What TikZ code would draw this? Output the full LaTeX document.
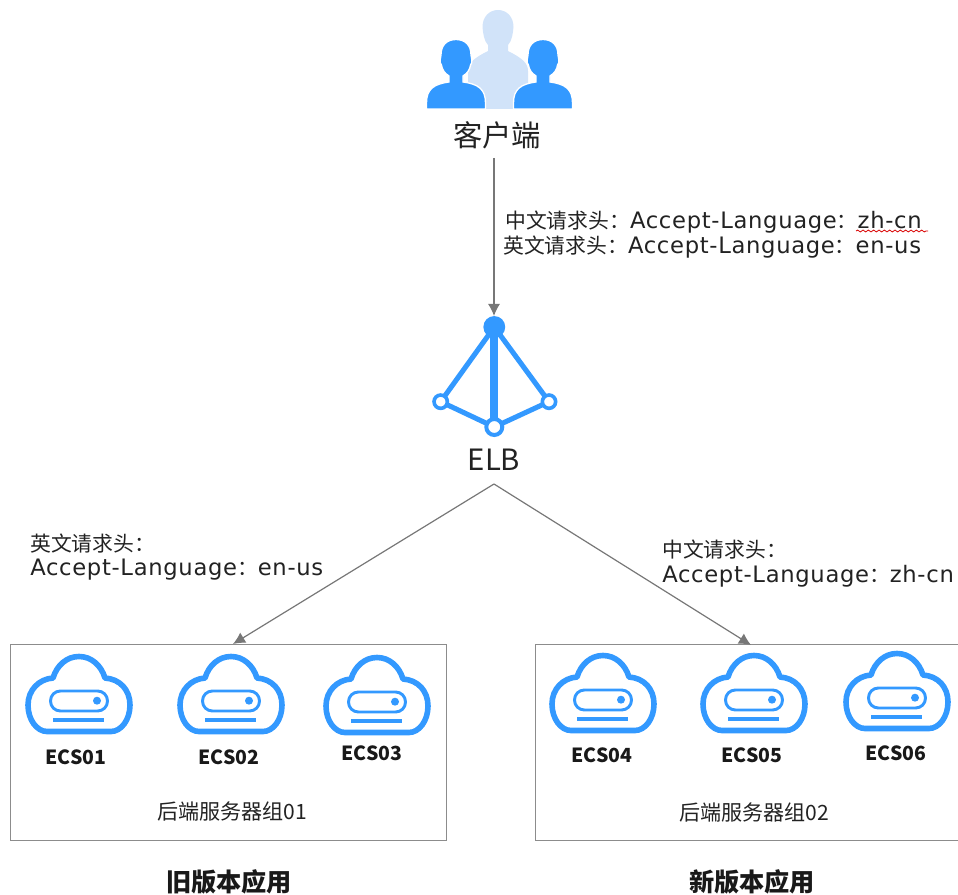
\documentclass[tikz,border=0pt]{standalone}
\usepackage{fontspec}
\setmainfont{Noto Sans CJK SC}
\newfontfamily\latf[LetterSpace=3]{DejaVu Sans}
\newcommand{\lt}[1]{{\latf\fontsize{17pt}{18pt}\selectfont #1}}
\usetikzlibrary{decorations.pathmorphing,arrows.meta}
\definecolor{iconblue}{HTML}{3399FF}
\definecolor{paleblue}{HTML}{D1E3F9}
\definecolor{linegray}{HTML}{777777}
\definecolor{boxgray}{HTML}{8C8C8C}
\definecolor{txt}{HTML}{222222}
\tikzset{
  x=0.75pt,y=-0.75pt,
  conn/.style={draw=linegray,line width=0.9pt,-{Latex[length=9pt,width=9pt]}},
  groupbox/.style={draw=boxgray,line width=0.8pt,minimum width=327pt,anchor=north west,inner sep=0pt},
  lbl/.style={font=\fontsize{15.6pt}{18pt}\selectfont,text=txt,anchor=west,inner sep=0pt},
  sm/.style={font=\fontsize{15.8pt}{18pt}\selectfont,text=txt,inner sep=0pt},
  big/.style={font=\fontsize{22pt}{26pt}\selectfont,text=txt,inner sep=0pt},
  ecs/.style={font=\fontsize{14.6pt}{17pt}\selectfont\bfseries,text=black!90,inner sep=0pt},
  app/.style={font=\fontsize{18.9pt}{22pt}\selectfont\bfseries,text=black!90,inner sep=0pt},
  cloud/.pic={
    \draw[iconblue,line width=4.2pt,line join=round]
      (-32,37.5) .. controls (-42,37.5) and (-51,26) .. (-51,11)
      .. controls (-51,-4) and (-40,-15) .. (-26,-16)
      .. controls (-22,-29) and (-12,-37.5) .. (0,-37.5)
      .. controls (12,-37.5) and (22,-29) .. (26,-16)
      .. controls (41,-15) and (51,-4) .. (51,11)
      .. controls (51,26) and (42,37.5) .. (32,37.5) -- cycle;
    \draw[iconblue,line width=2.2pt,rounded corners=7.4pt] (-28.5,-3) rectangle (28.5,17);
    \fill[iconblue] (18,6.7) circle[radius=3pt];
    \draw[iconblue,line width=3pt] (-26,25.5) -- (25,25.5);
  },
  person/.pic={
    \path[pic actions]
      (-29.5,0) -- (-29.5,-6)
      .. controls (-29.5,-20) and (-22,-25) .. (-7,-27)
      -- (-7,-33)
      .. controls (-12,-36) and (-14,-40) .. (-14.5,-44)
      .. controls (-17,-47) and (-15.5,-50) .. (-15,-54)
      .. controls (-15,-64) and (-9,-69.5) .. (0,-69.5)
      .. controls (9,-69.5) and (15,-64) .. (15,-54)
      .. controls (15.5,-50) and (17,-47) .. (14.5,-44)
      .. controls (14,-40) and (12,-36) .. (7,-33)
      -- (7,-27)
      .. controls (22,-25) and (29.5,-20) .. (29.5,-6)
      -- (29.5,0) -- cycle;
  },
}
\begin{document}
\begin{tikzpicture}
\useasboundingbox (0,0) rectangle (958,895);
% client icon
\fill[paleblue] (468,109) -- (468,-38+109)
  .. controls (468,-46+109) and (474,-51+109) .. (488,-58+109)
  -- (488,-64+109)
  .. controls (484,-68+109) and (483,-76+109) .. (482.5,-82+109)
  .. controls (482.5,-92+109) and (489,-99+109) .. (498,-99+109)
  .. controls (507,-99+109) and (513.5,-92+109) .. (513.5,-82+109)
  .. controls (513,-76+109) and (512,-68+109) .. (508,-64+109)
  -- (508,-58+109)
  .. controls (522,-51+109) and (528,-46+109) .. (528,-38+109)
  -- (528,109) -- cycle;
\pic[fill=iconblue,draw=white,line width=1pt] at (456,109) {person};
\pic[fill=iconblue,draw=white,line width=1pt] at (543,109) {person};
\node[big] (client) at (497,135) {客户端};
% ELB icon
\draw[iconblue,line width=3.8pt] (494.3,427) -- (440.7,401.7) -- (494.3,327) -- (549,401.7) -- cycle;
\draw[iconblue,line width=6pt] (494.3,327) -- (494.3,427);
\fill[iconblue] (494.3,327) circle[radius=8.2pt];
\draw[iconblue,fill=white,line width=2.7pt] (440.7,401.7) circle[radius=5pt];
\draw[iconblue,fill=white,line width=2.7pt] (549,401.7) circle[radius=5pt];
\draw[iconblue,fill=white,line width=3pt] (494.3,427) circle[radius=6pt];
\coordinate (elbtop) at (494,316);
\node[big] (elb) at (494,460) {ELB};
% boxes
\node[groupbox,minimum height=147pt] (oldbox) at (10,644) {};
\node[groupbox,minimum width=317pt,minimum height=147pt] (newbox) at (535,644) {};
% connectors
\coordinate (clientout) at (494,158);
\coordinate (elbout) at (494,484);
\coordinate (oldin) at (233,644);
\coordinate (newin) at (751,645);
\draw[conn] (clientout) -- (elbtop);
\draw[conn] (elbout) -- (oldin);
\draw[conn] (elbout) -- (newin);
% labels
\node[lbl] (zhtop) at (505,222) {中文请求头：\lt{Accept-Language}：\lt{zh-cn}};
\node[lbl] (entop) at (503,247) {英文请求头：\lt{Accept-Language}：\lt{en-us}};
\coordinate (waveA) at (856,231);
\coordinate (waveB) at (928,231);
\draw[red!85!black,line width=0.6pt,decorate,decoration={snake,amplitude=0.7pt,segment length=4pt}] (waveA) -- (waveB);
\node[lbl] (enL1) at (30,544) {英文请求头：};
\node[lbl] (enL2) at (30,570) {\lt{Accept-Language}：\lt{en-us}};
\node[lbl] (zhR1) at (662,550) {中文请求头：};
\node[lbl] (zhR2) at (662,576) {\lt{Accept-Language}：\lt{zh-cn}};
% clouds
\pic at (79,694) {cloud};
\pic at (231,694) {cloud};
\pic at (377,695) {cloud};
\pic at (603,693) {cloud};
\pic at (754,693) {cloud};
\pic at (897,691) {cloud};
\node[ecs] (e1) at (76,757) {ECS01};
\node[ecs] (e2) at (229,757) {ECS02};
\node[ecs] (e3) at (372,753) {ECS03};
\node[ecs] (e4) at (602,755) {ECS04};
\node[ecs] (e5) at (752,755) {ECS05};
\node[ecs] (e6) at (896,753) {ECS06};
\node[sm] (g1) at (232,812) {后端服务器组01};
\node[sm] (g2) at (754,813) {后端服务器组02};
\node[app] (old) at (229,882) {旧版本应用};
\node[app] (new) at (752,882) {新版本应用};
\end{tikzpicture}
\end{document}
